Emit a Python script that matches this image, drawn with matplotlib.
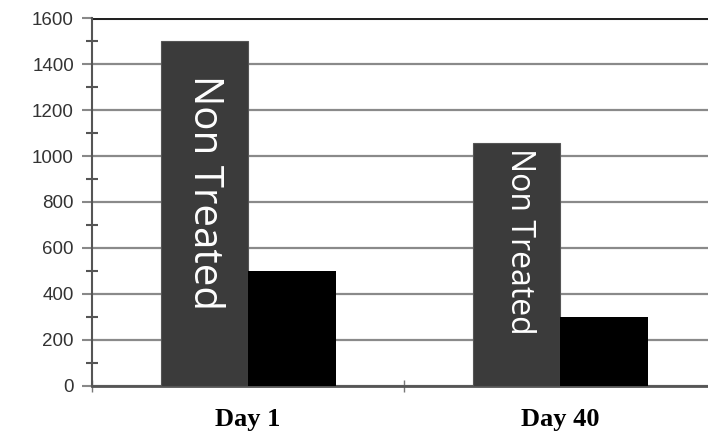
import matplotlib.pyplot as plt
import numpy as np

days = ["Day 1", "Day 40"]
non_treated = [1500, 1055]
treated = [500, 300]
bar_label = "Non Treated"
label_y = [840, 630]      # centre of the white in-bar text
label_size = [29, 23]

fig = plt.figure(figsize=(7.08, 4.41), dpi=100)
ax = fig.add_axes([0.130, 0.125, 0.882, 0.834])

x = np.arange(len(days))
w = 0.28
ax.bar(x - w / 2, non_treated, w, color="#3b3b3b", edgecolor="#555555", linewidth=0.8, zorder=3)
ax.bar(x + w / 2, treated, w, color="#000000", zorder=3)

for i in range(len(days)):
    ax.text(x[i] - w / 2 + 0.01 * i, label_y[i], bar_label, rotation=-90, color="white",
            ha="center", va="center", fontsize=label_size[i], family="Open Sans", zorder=4)

ax.set_xlim(-0.5, 1.5)
ax.set_ylim(0, 1600)
ax.set_yticks(np.arange(0, 1601, 200))
ax.set_yticks(np.arange(100, 1600, 200), minor=True)
ax.yaxis.grid(True, color="#8a8a8a", linewidth=1.6, zorder=0)
ax.axhline(1600, color="#222222", linewidth=2.2, zorder=2)

ax.set_xticks([-0.5, 0.5, 1.5])
ax.set_xticklabels([])
ax.set_xticks(x, minor=True)
ax.set_xticklabels(days, minor=True, fontsize=19, fontweight="bold", family="Liberation Serif")
ax.tick_params(axis="x", which="major", direction="inout", length=8, width=1, color="#777777")
ax.tick_params(axis="x", which="minor", length=0, pad=16)

ax.tick_params(axis="y", which="major", direction="out", length=7, width=1.5, color="#888888",
               labelsize=13.5, labelcolor="#333333", pad=6)
ax.tick_params(axis="y", which="minor", direction="inout", length=9, width=1.5, color="#555555")
for t in ax.get_yticklabels():
    t.set_family("Liberation Sans")

for s in ["top", "right"]:
    ax.spines[s].set_visible(False)
ax.spines["left"].set_color("#555555")
ax.spines["left"].set_linewidth(1.5)
ax.spines["bottom"].set_color("#555555")
ax.spines["bottom"].set_linewidth(2)

fig.savefig("out.png", dpi=100)
